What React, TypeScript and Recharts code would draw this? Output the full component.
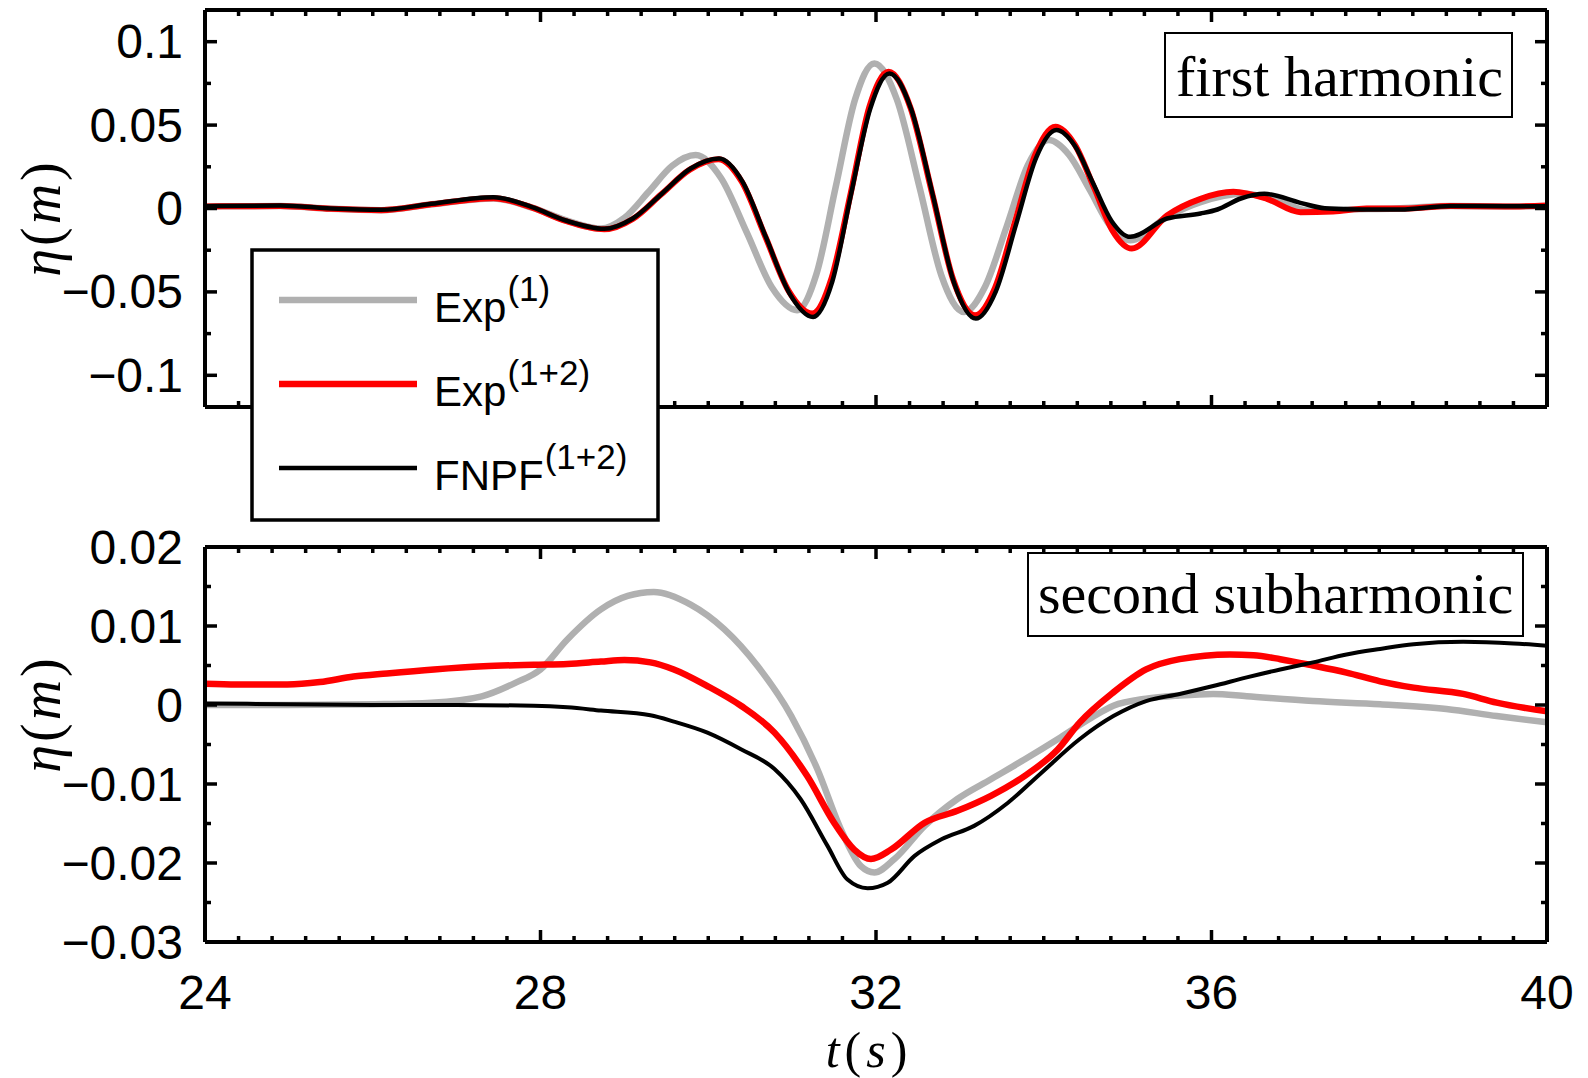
import React from 'react';
import { LineChart, Line, XAxis, YAxis } from 'recharts';

// time axis (s)
const xMajor = [24, 28, 32, 36, 40];
const yTopMajor = [-0.1, -0.05, 0, 0.05, 0.1];
const yBotMajor = [-0.03, -0.02, -0.01, 0, 0.01, 0.02];

// first harmonic, Exp(1)
const topExp1T = [24, 24.9, 25.5, 26.1, 26.7, 27.44, 27.9, 28.3, 28.72, 29.0, 29.29, 29.57, 29.85, 30.15, 30.46, 30.76, 31.06, 31.29, 31.52, 31.75, 31.98, 32.25, 32.52, 32.78, 33.05, 33.3, 33.56, 33.81, 34.06, 34.3, 34.55, 34.79, 35.03, 35.47, 35.87, 36.38, 36.8, 37.15, 37.6, 38.2, 38.85, 39.5, 40];
const topExp1 = [0.0012, 0.0015, -0.0002, -0.001, 0.0025, 0.006, 0.0005, -0.007, -0.012, -0.0056, 0.01, 0.0256, 0.032, 0.0184, -0.0145, -0.0474, -0.061, -0.0393, 0.013, 0.0653, 0.087, 0.0652, 0.0125, -0.0402, -0.062, -0.0469, -0.0105, 0.0259, 0.041, 0.0322, 0.011, -0.0102, -0.019, -0.005, 0.0038, 0.0088, 0.0045, -0.0012, -0.0005, 0, 0.0015, 0.0012, 0.0015];

// first harmonic, Exp(1+2)
const topExp12T = [24, 24.9, 25.5, 26.1, 26.7, 27.44, 27.9, 28.3, 28.76, 29.1, 29.44, 29.78, 30.12, 30.4, 30.68, 30.96, 31.24, 31.47, 31.7, 31.92, 32.15, 32.41, 32.67, 32.92, 33.18, 33.42, 33.66, 33.9, 34.14, 34.37, 34.6, 34.82, 35.05, 35.47, 35.87, 36.26, 36.66, 37.06, 37.45, 37.85, 38.3, 38.85, 39.5, 40];
const topExp12 = [0.0012, 0.0015, -0.0002, -0.001, 0.0025, 0.0062, 0.0005, -0.0075, -0.0125, -0.0063, 0.0085, 0.0233, 0.0295, 0.016, -0.0168, -0.0495, -0.063, -0.0418, 0.0095, 0.0608, 0.082, 0.0606, 0.009, -0.0426, -0.064, -0.0474, -0.0075, 0.0324, 0.049, 0.0383, 0.0125, -0.0133, -0.024, -0.0042, 0.0058, 0.01, 0.0058, -0.0022, -0.0018, 0, 0, 0.0015, 0.0012, 0.0018];

// first harmonic, FNPF(1+2)
const topFnpfT = [24, 24.9, 25.5, 26.1, 26.7, 27.44, 27.9, 28.3, 28.76, 29.1, 29.45, 29.79, 30.13, 30.41, 30.69, 30.97, 31.25, 31.48, 31.7, 31.93, 32.16, 32.42, 32.68, 32.93, 33.19, 33.43, 33.67, 33.91, 34.15, 34.37, 34.59, 34.81, 35.03, 35.47, 35.87, 36.07, 36.35, 36.63, 37.06, 37.35, 37.8, 38.25, 38.85, 39.5, 40];
const topFnpf = [0.0014, 0.0018, 0, -0.0008, 0.0028, 0.0068, 0.0008, -0.0072, -0.0122, -0.006, 0.009, 0.024, 0.03, 0.016, -0.0175, -0.051, -0.065, -0.0436, 0.008, 0.0596, 0.081, 0.0595, 0.0075, -0.0445, -0.066, -0.0495, -0.0095, 0.0305, 0.047, 0.0376, 0.015, -0.0076, -0.017, -0.006, -0.003, -0.0006, 0.006, 0.0088, 0.0034, 0.0002, -0.0006, -0.0006, 0.0015, 0.0014, 0.0014];

// second subharmonic, Exp(1)
const botExp1T = [24, 25, 26, 26.7, 27.3, 27.7, 28.0, 28.32, 28.72, 29.04, 29.35, 29.79, 30.19, 30.59, 30.99, 31.3, 31.58, 31.82, 31.98, 32.22, 32.58, 32.97, 33.37, 33.77, 34.17, 34.57, 34.83, 35.22, 35.62, 36.02, 36.42, 37.21, 38.01, 38.8, 39.4, 40];
const botExp1 = [0, 0, 0.0001, 0.0003, 0.0011, 0.0028, 0.0045, 0.0083, 0.0121, 0.0138, 0.0143, 0.0127, 0.0096, 0.0049, -0.0014, -0.0081, -0.0157, -0.0204, -0.0212, -0.0195, -0.0153, -0.0119, -0.0094, -0.0069, -0.0043, -0.0016, -0.0001, 0.0008, 0.0012, 0.0014, 0.0011, 0.0005, 0.0001, -0.0005, -0.0014, -0.0022];

// second subharmonic, Exp(1+2)
const botExp12T = [24, 24.38, 24.98, 25.37, 25.77, 26.17, 26.73, 27.32, 27.92, 28.32, 28.72, 29.0, 29.31, 29.59, 29.99, 30.39, 30.79, 31.18, 31.5, 31.74, 31.94, 32.18, 32.58, 32.97, 33.37, 33.77, 34.17, 34.43, 34.83, 35.22, 35.62, 36.22, 36.5, 36.82, 37.21, 37.61, 38.01, 38.41, 39.0, 39.4, 40];
const botExp12 = [0.0027, 0.0026, 0.0026, 0.0029, 0.0036, 0.004, 0.0045, 0.0049, 0.0051, 0.0052, 0.0055, 0.0057, 0.0054, 0.0045, 0.0024, -0.0001, -0.0035, -0.009, -0.0149, -0.0183, -0.0195, -0.0183, -0.0149, -0.0134, -0.0115, -0.009, -0.0056, -0.0022, 0.0016, 0.0045, 0.0058, 0.0064, 0.0063, 0.0058, 0.005, 0.0041, 0.003, 0.0022, 0.0014, 0.0003, -0.0008];

// second subharmonic, FNPF(1+2)
const botFnpfT = [24, 25, 26, 27, 27.92, 28.32, 28.72, 29.31, 29.59, 29.99, 30.39, 30.79, 31.1, 31.42, 31.66, 31.9, 32.14, 32.46, 32.78, 33.17, 33.57, 33.97, 34.43, 34.83, 35.22, 35.62, 36.02, 36.42, 36.82, 37.21, 37.61, 38.01, 38.41, 39.0, 39.6, 40];
const botFnpf = [0.0002, 0.0001, 0, 0, -0.0001, -0.0003, -0.0007, -0.0013, -0.0021, -0.0035, -0.0056, -0.0081, -0.0119, -0.0178, -0.0221, -0.0232, -0.0225, -0.0191, -0.017, -0.0153, -0.0124, -0.0086, -0.0043, -0.0014, 0.0005, 0.0014, 0.0024, 0.0035, 0.0045, 0.0054, 0.0064, 0.0071, 0.0077, 0.008, 0.0078, 0.0075];

const GRAY = '#b0b0b0';
const RED = '#ff0000';
const SANS = '"Liberation Sans", Arial, Helvetica, sans-serif';
const SERIF = '"Liberation Serif", "Times New Roman", serif';

const PLOT_L = 205;
const PLOT_R = 1547;

const zip = (t: number[], v: number[]) => t.map((x, i) => ({ t: x, v: v[i] }));

// split each major interval into n minor steps
const withMinor = (majors: number[], n: number) => {
  const out: number[] = [];
  for (let i = 0; i < majors.length - 1; i++) {
    const step = (majors[i + 1] - majors[i]) / n;
    for (let k = 0; k < n; k++) out.push(Math.round((majors[i] + k * step) * 1e6) / 1e6);
  }
  out.push(majors[majors.length - 1]);
  return out;
};

const fmtNum = (v: number) => (v < 0 ? '\u2212' : '') + String(Math.abs(v));

type Side = 'left' | 'right' | 'top' | 'bottom';

// matlab-style inward ticks drawn from the plot edge, labels only on majors
const makeTick = (side: Side, majors: number[], showLabel: boolean, edge: number) => (props: any) => {
  const { x, y, payload } = props;
  const v = payload.value;
  const major = majors.some((m) => Math.abs(m - v) < 1e-9);
  const len = major ? 12 : 6;
  let x1 = x, x2 = x, y1 = y, y2 = y;
  if (side === 'left') { x1 = edge; x2 = edge + len; }
  if (side === 'right') { x1 = edge; x2 = edge - len; }
  if (side === 'top') { y1 = edge; y2 = edge + len; }
  if (side === 'bottom') { y1 = edge; y2 = edge - len; }
  return (
    <g>
      <line x1={x1} y1={y1} x2={x2} y2={y2} stroke="#000" strokeWidth={3.5} />
      {showLabel && major && side === 'left' && (
        <text x={edge - 22} y={y} textAnchor="end" dominantBaseline="central" fontSize={48} fontFamily={SANS} fill="#000">
          {fmtNum(v)}
        </text>
      )}
      {showLabel && major && side === 'bottom' && (
        <text x={x} y={edge + 50} textAnchor="middle" dominantBaseline="central" fontSize={48} fontFamily={SANS} fill="#000">
          {fmtNum(v)}
        </text>
      )}
    </g>
  );
};

const axisLine = { stroke: '#000', strokeWidth: 4 };

interface PanelProps {
  height: number;
  plotTop: number;
  plotBottom: number;
  yDomain: [number, number];
  yMajor: number[];
  xLabels: boolean;
  series: { data: { t: number; v: number }[]; color: string; width: number; name: string }[];
}

const Panel: React.FC<PanelProps> = ({ height, plotTop, plotBottom, yDomain, yMajor, xLabels, series }) => {
  const xTicks = withMinor(xMajor, 10);
  const yTicks = withMinor(yMajor, 2).filter((v) => v >= yDomain[0] - 1e-9 && v <= yDomain[1] + 1e-9);
  const margin = { top: plotTop - 1, right: 1588 - PLOT_R - 1, bottom: height - plotBottom - 1, left: 0 };
  return (
    <LineChart width={1588} height={height} margin={margin}>
      <XAxis xAxisId="b" type="number" dataKey="t" domain={[24, 40]} allowDataOverflow ticks={xTicks} interval={0}
        orientation="bottom" height={1} tickSize={0} tickMargin={0} tickLine={false} axisLine={axisLine}
        tick={makeTick('bottom', xMajor, xLabels, plotBottom)} />
      <XAxis xAxisId="t" type="number" dataKey="t" domain={[24, 40]} allowDataOverflow ticks={xTicks} interval={0}
        orientation="top" height={1} tickSize={0} tickMargin={0} tickLine={false} axisLine={axisLine}
        tick={makeTick('top', xMajor, false, plotTop)} />
      <YAxis yAxisId="l" type="number" dataKey="v" domain={yDomain} allowDataOverflow ticks={yTicks} interval={0}
        orientation="left" width={PLOT_L} tickSize={0} tickMargin={0} tickLine={false} axisLine={axisLine}
        tick={makeTick('left', yMajor, true, PLOT_L)} />
      <YAxis yAxisId="r" type="number" dataKey="v" domain={yDomain} allowDataOverflow ticks={yTicks} interval={0}
        orientation="right" width={1} tickSize={0} tickMargin={0} tickLine={false} axisLine={axisLine}
        tick={makeTick('right', yMajor, false, PLOT_R)} />
      {/* invisible carrier so the top and right axes have a series */}
      <Line xAxisId="t" yAxisId="r" data={series[0].data} dataKey="v" stroke="none" dot={false} activeDot={false}
        isAnimationActive={false} legendType="none" />
      {series.map((s) => (
        <Line key={s.name} xAxisId="b" yAxisId="l" data={s.data} dataKey="v" name={s.name} type="monotone"
          stroke={s.color} strokeWidth={s.width} dot={false} activeDot={false} isAnimationActive={false} />
      ))}
    </LineChart>
  );
};

const EtaLabel: React.FC<{ cx: number; cy: number }> = ({ cx, cy }) => (
  <text transform={`translate(${cx},${cy}) rotate(-90)`} textAnchor="middle" fontSize={56} fontFamily={SERIF} letterSpacing={3} fill="#000">
    <tspan fontStyle="italic">η</tspan>
    <tspan>(</tspan>
    <tspan fontStyle="italic">m</tspan>
    <tspan>)</tspan>
  </text>
);

const LegendEntry: React.FC<{ y: number; color: string; width: number; main: string; sup: string }> = ({ y, color, width, main, sup }) => (
  <g>
    <line x1={279} x2={417} y1={y} y2={y} stroke={color} strokeWidth={width} />
    <text x={434} y={y + 22} fontSize={42} fontFamily={SANS} fill="#000">
      {main}
      <tspan dx={1} dy={-21} fontSize={35}>{sup}</tspan>
    </text>
  </g>
);

export default function App() {
  return (
    <div style={{ position: 'absolute', left: 0, top: 0, width: 1588, height: 1078, background: '#fff', overflow: 'hidden' }}>
      <div style={{ position: 'absolute', left: 0, top: 0 }}>
        <Panel
          height={430}
          plotTop={10}
          plotBottom={407}
          yDomain={[-0.119, 0.119]}
          yMajor={yTopMajor}
          xLabels={false}
          series={[
            { name: 'Exp(1)', data: zip(topExp1T, topExp1), color: GRAY, width: 6.5 },
            { name: 'Exp(1+2)', data: zip(topExp12T, topExp12), color: RED, width: 6 },
            { name: 'FNPF(1+2)', data: zip(topFnpfT, topFnpf), color: '#000', width: 4.5 },
          ]}
        />
      </div>
      <div style={{ position: 'absolute', left: 0, top: 430 }}>
        <Panel
          height={648}
          plotTop={117}
          plotBottom={512}
          yDomain={[-0.03, 0.02]}
          yMajor={yBotMajor}
          xLabels={true}
          series={[
            { name: 'Exp(1)', data: zip(botExp1T, botExp1), color: GRAY, width: 6.5 },
            { name: 'Exp(1+2)', data: zip(botExp12T, botExp12), color: RED, width: 6.5 },
            { name: 'FNPF(1+2)', data: zip(botFnpfT, botFnpf), color: '#000', width: 4 },
          ]}
        />
      </div>
      <svg width={1588} height={1078} style={{ position: 'absolute', left: 0, top: 0, pointerEvents: 'none' }}>
        {/* axis titles */}
        <EtaLabel cx={60} cy={218} />
        <EtaLabel cx={60} cy={714} />
        <text x={869} y={1067} textAnchor="middle" fontSize={50} fontFamily={SERIF} letterSpacing={5} fill="#000">
          <tspan fontStyle="italic">t</tspan>
          <tspan>(</tspan>
          <tspan fontStyle="italic">s</tspan>
          <tspan>)</tspan>
        </text>

        {/* panel tags */}
        <rect x={1165} y={33} width={347} height={84} fill="#fff" stroke="#000" strokeWidth={2} />
        <text x={1176} y={96} fontSize={58} fontFamily={SERIF} fill="#000">first harmonic</text>
        <rect x={1028} y={553} width={495} height={83} fill="#fff" stroke="#000" strokeWidth={2} />
        <text x={1038} y={613} fontSize={58} fontFamily={SERIF} fill="#000">second subharmonic</text>

        {/* legend */}
        <rect x={252} y={250} width={406} height={270} fill="#fff" stroke="#000" strokeWidth={3.5} />
        <LegendEntry y={300} color={GRAY} width={6.5} main="Exp" sup="(1)" />
        <LegendEntry y={384} color={RED} width={6.5} main="Exp" sup="(1+2)" />
        <LegendEntry y={468} color="#000" width={4.5} main="FNPF" sup="(1+2)" />
      </svg>
    </div>
  );
}
